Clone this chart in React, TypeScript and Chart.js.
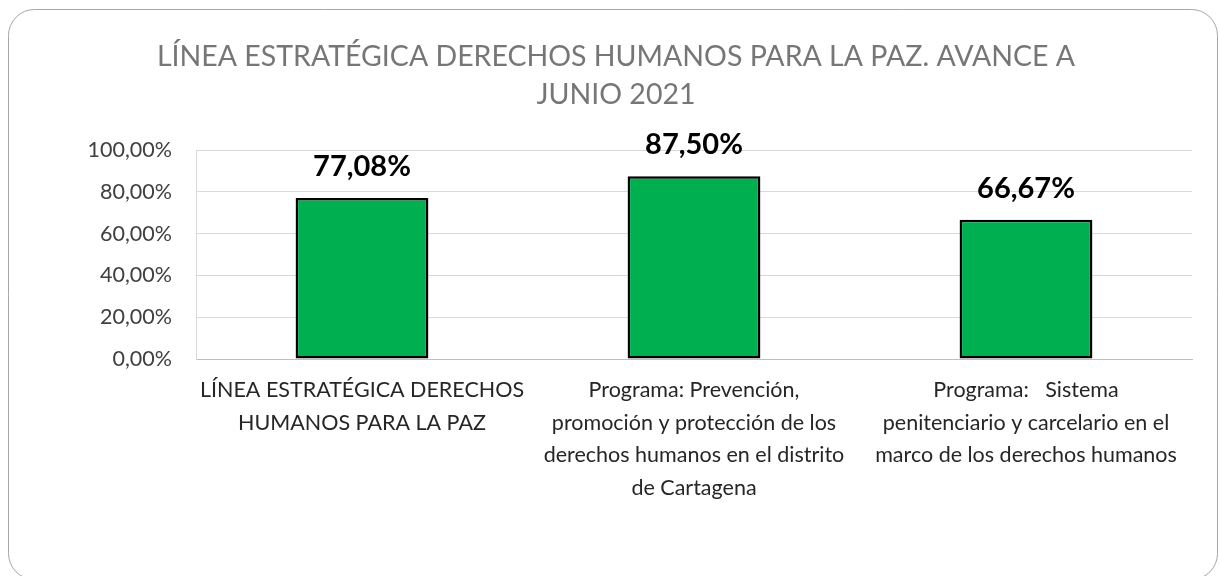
import React, { useEffect, useRef } from "react";
import { Chart, registerables } from "chart.js";
Chart.register(...registerables);

const categories: string[][] = [
  ["LÍNEA ESTRATÉGICA DERECHOS", "HUMANOS PARA LA PAZ"],
  ["Programa: Prevención,", "promoción y protección de los", "derechos humanos en el distrito", "de Cartagena"],
  ["Programa:   Sistema", "penitenciario y carcelario en el", "marco de los derechos humanos"],
];
const values = [77.08, 87.5, 66.67];
const valueLabels = ["77,08%", "87,50%", "66,67%"];
const yMin = 0;
const yMax = 100;
const yStep = 20;
const titleLines = ["LÍNEA ESTRATÉGICA DERECHOS HUMANOS PARA LA PAZ. AVANCE A", "JUNIO 2021"];

const FONT = "Lato, 'Open Sans', sans-serif";

const framePlugin = {
  id: "frame",
  beforeDraw(chart: any) {
    const ctx = chart.ctx;
    ctx.save();
    ctx.fillStyle = "#ffffff";
    ctx.fillRect(0, 0, chart.width, chart.height);
    ctx.beginPath();
    ctx.roundRect(8.5, 9.5, 1209, 570, 26);
    ctx.strokeStyle = "#a6a6a6";
    ctx.lineWidth = 1;
    ctx.stroke();
    ctx.restore();
  },
};

const titlePlugin = {
  id: "customTitle",
  afterDraw(chart: any) {
    const ctx = chart.ctx;
    ctx.save();
    ctx.fillStyle = "#767676";
    ctx.font = `28.5px ${FONT}`;
    ctx.textAlign = "center";
    ctx.textBaseline = "middle";
    titleLines.forEach((t, i) => ctx.fillText(t, 616, 57 + i * 38));
    ctx.restore();
  },
};

const labelPlugin = {
  id: "valueLabels",
  afterDatasetsDraw(chart: any) {
    const ctx = chart.ctx;
    const meta = chart.getDatasetMeta(0);
    ctx.save();
    ctx.fillStyle = "#000000";
    ctx.font = `bold 29px ${FONT}`;
    ctx.textAlign = "center";
    ctx.textBaseline = "middle";
    meta.data.forEach((bar: any, i: number) => {
      ctx.fillText(valueLabels[i], bar.x, bar.y - 31);
    });
    ctx.restore();
  },
};

export default function App() {
  const ref = useRef<HTMLCanvasElement | null>(null);
  useEffect(() => {
    if (!ref.current) return;
    const chart = new Chart(ref.current, {
      type: "bar",
      data: {
        labels: categories,
        datasets: [
          {
            data: values,
            backgroundColor: "#00b050",
            borderColor: "#000000",
            borderWidth: 2.5,
            borderSkipped: false,
            barPercentage: 0.4,
            categoryPercentage: 1,
          },
        ],
      },
      options: {
        responsive: false,
        animation: false,
        layout: { padding: { top: 150, right: 28, left: 0, bottom: 0 } },
        plugins: { legend: { display: false }, title: { display: false }, tooltip: { enabled: false } },
        scales: {
          x: {
            grid: { display: false, drawTicks: false },
            border: { display: true, color: "#bfbfbf", width: 1 },
            ticks: {
              color: "#262626",
              font: { family: FONT, size: 21.5, lineHeight: 1.51 },
              padding: 15,
              maxRotation: 0,
              autoSkip: false,
            },
            afterFit(scale: any) {
              scale.height = 217;
            },
          },
          y: {
            min: yMin,
            max: yMax,
            grid: { color: "#d9d9d9", drawTicks: false },
            border: { display: true, color: "#d9d9d9" },
            ticks: {
              stepSize: yStep,
              color: "#404040",
              font: { family: FONT, size: 21.5 },
              padding: 24,
              callback: (v: any) => Number(v).toFixed(2).replace(".", ",") + "%",
            },
            afterFit(scale: any) {
              scale.width = 196;
            },
          },
        },
      },
      plugins: [framePlugin, titlePlugin, labelPlugin],
    });
    return () => chart.destroy();
  }, []);
  return (
    <div style={{ position: "absolute", left: 0, top: 0, width: 1220, height: 576 }}>
      <canvas ref={ref} width={1220} height={576} />
    </div>
  );
}
